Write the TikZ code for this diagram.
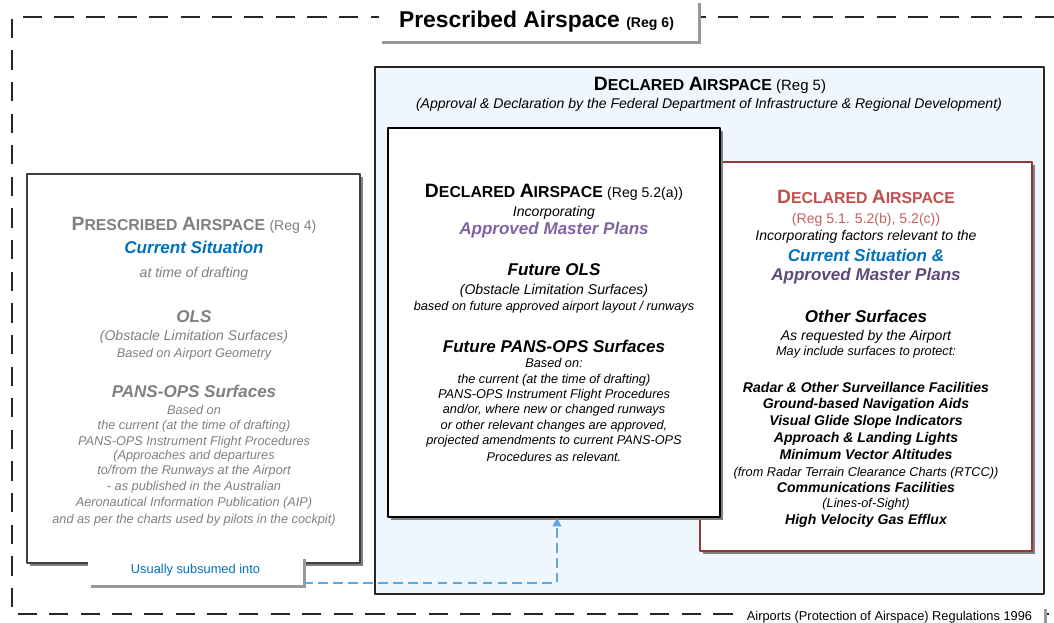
\documentclass[tikz,border=0pt]{standalone}
\usepackage{fontspec}
\setmainfont{Liberation Sans}
\usetikzlibrary{arrows.meta,shadows,fit,positioning}

\definecolor{declfill}{HTML}{EFF6FD}
\definecolor{sitblue}{HTML}{0070C0}
\definecolor{planlilac}{HTML}{8064A2}
\definecolor{plandark}{HTML}{5F497A}
\definecolor{declred}{HTML}{C0504D}
\definecolor{boxred}{HTML}{953735}
\definecolor{flowblue}{HTML}{5DA8E0}
\definecolor{oldgray}{HTML}{808080}

% large first letter, smaller rest (small caps look)
\newcommand{\capsword}[2]{{\fontsize{11}{13}\selectfont #1}{\fontsize{9}{11}\selectfont #2}}

\begin{document}
\begin{tikzpicture}[x=0.02cm, y=-0.02cm, line join=round,
    every node/.style={inner sep=0pt},
    txt/.style={anchor=base, align=center},
    fbody/.style={font=\fontsize{7.25}{8.7}\selectfont\itshape},
    fsub/.style={font=\fontsize{8}{9.6}\selectfont\itshape},
    fhead/.style={font=\fontsize{9.7}{11.6}\selectfont\bfseries\itshape},
    fitem/.style={font=\fontsize{8}{9.6}\selectfont\bfseries\itshape},
    ftitle/.style={font=\fontsize{9}{11}\selectfont\bfseries},
    frame/.style={draw=black!85, line width=0.8pt, dash pattern=on 11pt off 7pt},
    panel/.style={draw=black!85, line width=0.6pt, fill=white,
        drop shadow={shadow xshift=1.8pt, shadow yshift=-1.8pt, fill=black!50, opacity=1}},
    tag/.style={fill=white,
        drop shadow={shadow xshift=1.8pt, shadow yshift=-1.8pt, fill=black!40, opacity=1}},
    flow/.style={draw=flowblue, line width=1pt, dash pattern=on 5.5pt off 3pt,
        -{Triangle[length=5pt,width=5pt]}}]
    \useasboundingbox (0,0) rectangle (1054,622);

    % Prescribed airspace (Reg 6)
    \draw[frame] (1054,17) -- (12,17) -- (12,614) -- (1054,614);
    \node[tag, fit={(379,0) (698,41)}] (regsix) {};
    \node[txt] (regsixtxt) at (536.5,28) {\fontsize{13}{15}\selectfont\bfseries Prescribed Airspace {\fontsize{8}{10}\selectfont(Reg 6)}};
    \node[tag, fit={(735,606) (1044,632)}] (regact) {};
    \node[txt, font=\fontsize{7.3}{9}\selectfont] (regacttxt) at (889.5,620) {Airports (Protection of Airspace) Regulations 1996};

    % Declared airspace (Reg 5)
    \node[draw=black!85, line width=0.6pt, fill=declfill, fit={(375,67) (1044,594)}] (declbox) {};
    \node[txt, ftitle] (decltitle) at (710,90) {\capsword{D}{ECLARED} \capsword{A}{IRSPACE} {\fontsize{8.5}{10}\selectfont\mdseries(Reg 5)}};
    \node[txt, fsub] (declsub) at (709,108) {(Approval \& Declaration by the Federal Department of Infrastructure \& Regional Development)};

    % Reg 5.1, 5.2(b), 5.2(c): other surfaces
    \node[panel, draw=boxred, fit={(700,162) (1032,551)}] (othbox) {};
    \node[txt, ftitle, text=declred] (othtitle) at (866,203) {\capsword{D}{ECLARED} \capsword{A}{IRSPACE}};
    \node[txt, font=\fontsize{8}{10}\selectfont, text=declred!90] (othreg) at (866,223) {(Reg 5.1. 5.2(b), 5.2(c))};
    \node[txt, fsub] (othinc) at (866,240) {Incorporating factors relevant to the};
    \node[txt, fhead, text=sitblue] (othsit) at (866,261) {Current Situation \&};
    \node[txt, fhead, text=plandark] (othplan) at (866,280) {Approved Master Plans};
    \node[txt, fhead] (othhead) at (866,322) {Other Surfaces};
    \node[txt, fsub] (othreq) at (866,340) {As requested by the Airport};
    \node[txt, fbody] (othmay) at (866,355) {May include surfaces to protect:};
    \foreach \y/\s/\t [count=\i] in {392/fitem/{Radar \& Other Surveillance Facilities},
        408/fitem/{Ground-based Navigation Aids}, 425/fitem/{Visual Glide Slope Indicators},
        442/fitem/{Approach \& Landing Lights}, 459/fitem/{Minimum Vector Altitudes},
        476/fbody/{(from Radar Terrain Clearance Charts (RTCC))}, 492/fitem/{Communications Facilities},
        507/fbody/{(Lines-of-Sight)}, 524/fitem/{High Velocity Gas Efflux}}
        \node[txt, \s] (othline\i) at (866,\y) {\t};

    % Reg 5.2(a): approved master plans
    \node[panel, line width=0.8pt, draw=black, fit={(388,128) (720,517)}] (futbox) {};
    \node[txt, ftitle] (futtitle) at (554,197) {\capsword{D}{ECLARED} \capsword{A}{IRSPACE} {\fontsize{8}{10}\selectfont\mdseries(Reg 5.2(a))}};
    \node[txt, fsub] (futinc) at (554,216) {Incorporating};
    \node[txt, fhead, text=planlilac] (futplan) at (554,234) {Approved Master Plans};
    \node[txt, fhead] (futols) at (554,275) {Future OLS};
    \node[txt, fsub] (futolsdef) at (554,294) {(Obstacle Limitation Surfaces)};
    \node[txt, fbody] (futlayout) at (554,310) {based on future approved airport layout / runways};
    \node[txt, fhead] (futpans) at (554,352) {Future PANS-OPS Surfaces};
    \foreach \y/\t [count=\i] in {367/{Based on:}, 383/{the current (at the time of drafting)},
        398/{PANS-OPS Instrument Flight Procedures}, 413/{and/or, where new or changed runways},
        429/{or other relevant changes are approved,}, 444/{projected amendments to current PANS-OPS},
        461/{Procedures as relevant.}}
        \node[txt, fbody] (futline\i) at (554,\y) {\t};

    % Reg 4: current situation
    \node[panel, draw=black!75, fit={(27,174) (360,563)}] (curbox) {};
    \node[txt, ftitle, text=oldgray] (curtitle) at (194,230) {\capsword{P}{RESCRIBED} \capsword{A}{IRSPACE} {\fontsize{8}{10}\selectfont\mdseries(Reg 4)}};
    \node[txt, fhead, text=sitblue] (cursit) at (194,253) {Current Situation};
    \node[txt, fsub, text=oldgray] (curtime) at (194,277) {at time of drafting};
    \node[txt, fhead, text=oldgray] (curols) at (194,322) {OLS};
    \node[txt, fsub, text=oldgray] (curolsdef) at (194,340) {(Obstacle Limitation Surfaces)};
    \node[txt, fbody, text=oldgray] (curgeom) at (194,357) {Based on Airport Geometry};
    \node[txt, fhead, text=oldgray] (curpans) at (194,397) {PANS-OPS Surfaces};
    \foreach \y/\t [count=\i] in {414/{Based on}, 429/{the current (at the time of drafting)},
        445/{PANS-OPS Instrument Flight Procedures}, 459/{(Approaches and departures},
        474/{to/from the Runways at the Airport}, 490/{- as published in the Australian},
        506/{Aeronautical Information Publication (AIP)}, 523/{and as per the charts used by pilots in the cockpit)}}
        \node[txt, fbody, text=oldgray] (curline\i) at (194,\y) {\t};

    % usually subsumed into 5.2(a)
    \node[tag, fit={(88,556) (303,585)}] (subsumed) {};
    \node[txt, font=\fontsize{7.3}{9}\selectfont, text=sitblue] (subsumedtxt) at (195.5,573) {Usually subsumed into};
    \draw[flow] ([yshift=1.5pt]subsumed.south east) -| ([xshift=1.7pt]futbox.south);
\end{tikzpicture}
\end{document}
